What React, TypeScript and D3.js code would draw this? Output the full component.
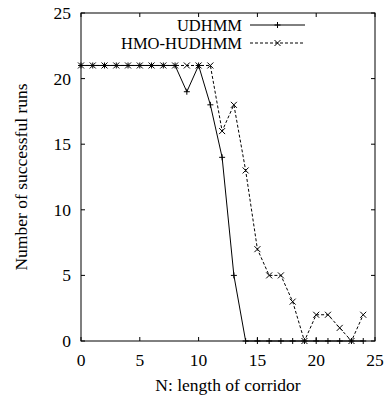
import React from 'react';
import * as d3 from 'd3';

const corridorN = [0, 1, 2, 3, 4, 5, 6, 7, 8, 9, 10, 11, 12, 13, 14, 15, 16, 17, 18, 19, 20, 21, 22, 23, 24];
const udhmm = [21, 21, 21, 21, 21, 21, 21, 21, 21, 19, 21, 18, 14, 5, 0, 0, 0, 0, 0, 0, 0, 0, 0, 0, 0];
const hmoHudhmm = [21, 21, 21, 21, 21, 21, 21, 21, 21, 21, 21, 21, 16, 18, 13, 7, 5, 5, 3, 0, 2, 2, 1, 0, 2];
const xTicks = [0, 5, 10, 15, 20, 25];
const yTicks = [0, 5, 10, 15, 20, 25];

const font = '"Liberation Serif", "DejaVu Serif", serif';
const fs = 17.5;

export default function App() {
    const left = 81, right = 375, top = 13, bottom = 341;
    const x = d3.scaleLinear().domain([0, 25]).range([left, right]);
    const y = d3.scaleLinear().domain([0, 25]).range([bottom, top]);

    const line = d3.line<number>()
        .x((_, i) => x(corridorN[i]))
        .y(v => y(v));

    const plus = (cx: number, cy: number, k: string) => (
        <path key={k} d={`M${cx - 3},${cy}H${cx + 3}M${cx},${cy - 3}V${cy + 3}`} stroke="#000" strokeWidth={1} />
    );
    const cross = (cx: number, cy: number, k: string) => (
        <path key={k} d={`M${cx - 3},${cy - 3}L${cx + 3},${cy + 3}M${cx - 3},${cy + 3}L${cx + 3},${cy - 3}`} stroke="#000" strokeWidth={1} />
    );

    //legend positions
    const legX1 = 250, legX2 = 305;
    const leg1Y = 25, leg2Y = 43;

    return (
        <svg width={386} height={397} style={{ position: 'absolute', left: 0, top: 0, background: '#fff' }}>
            <rect x={0} y={0} width={386} height={397} fill="#fff" />
            {/* frame */}
            <rect x={left} y={top} width={right - left} height={bottom - top} fill="none" stroke="#000" strokeWidth={1} />
            {/* ticks */}
            {xTicks.map(t => (
                <g key={'x' + t}>
                    <line x1={x(t)} x2={x(t)} y1={bottom} y2={bottom - 4} stroke="#000" />
                    <line x1={x(t)} x2={x(t)} y1={top} y2={top + 4} stroke="#000" />
                    <text x={x(t)} y={366} textAnchor="middle" fontFamily={font} fontSize={fs}>{t}</text>
                </g>
            ))}
            {yTicks.map(t => (
                <g key={'y' + t}>
                    <line x1={left} x2={left + 4} y1={y(t)} y2={y(t)} stroke="#000" />
                    <line x1={right} x2={right - 4} y1={y(t)} y2={y(t)} stroke="#000" />
                    <text x={left - 10} y={y(t) + 6} textAnchor="end" fontFamily={font} fontSize={fs}>{t}</text>
                </g>
            ))}
            {/* axis labels */}
            <text x={(left + right) / 2} y={391} textAnchor="middle" fontFamily={font} fontSize={fs}>N: length of corridor</text>
            <text transform={`translate(27, ${(top + bottom) / 2}) rotate(-90)`} textAnchor="middle" fontFamily={font} fontSize={fs}>Number of successful runs</text>

            {/* series */}
            <path d={line(udhmm) || ''} fill="none" stroke="#000" strokeWidth={1} />
            {udhmm.map((v, i) => plus(x(corridorN[i]), y(v), 'u' + i))}
            <path d={line(hmoHudhmm) || ''} fill="none" stroke="#000" strokeWidth={1} strokeDasharray="3,2" />
            {hmoHudhmm.map((v, i) => cross(x(corridorN[i]), y(v), 'h' + i))}

            {/* legend */}
            <text x={242} y={leg1Y + 6} textAnchor="end" fontFamily={font} fontSize={16.5}>UDHMM</text>
            <line x1={legX1} x2={legX2} y1={leg1Y} y2={leg1Y} stroke="#000" />
            {plus((legX1 + legX2) / 2, leg1Y, 'lp')}
            <text x={242} y={leg2Y + 6} textAnchor="end" fontFamily={font} fontSize={16.5}>HMO-HUDHMM</text>
            <line x1={legX1} x2={legX2} y1={leg2Y} y2={leg2Y} stroke="#000" strokeDasharray="3,2" />
            {cross((legX1 + legX2) / 2, leg2Y, 'lc')}
        </svg>
    );
}
